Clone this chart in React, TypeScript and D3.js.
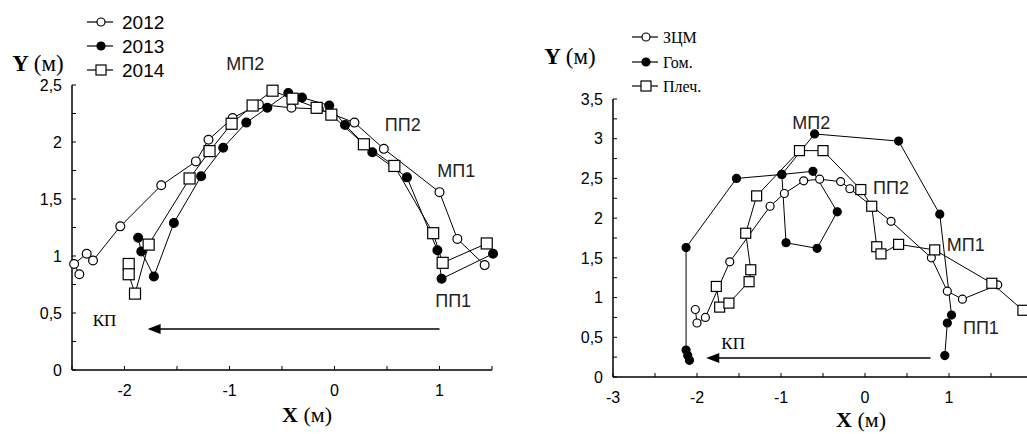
import React, { useEffect, useRef } from "react";
import * as d3 from "d3";

type Pt = [number, number];
type Note = [string, number, number];

// left panel: trajectories by year
const yearNames = ["2012", "2013", "2014"];
const traj2012: Pt[] = [
  [-2.43, 0.84], [-2.48, 0.93], [-2.36, 1.02], [-2.3, 0.96], [-2.04, 1.26],
  [-1.65, 1.62], [-1.32, 1.83], [-1.2, 2.02], [-0.97, 2.21], [-0.72, 2.33],
  [-0.41, 2.3], [-0.15, 2.29], [0.19, 2.17], [0.47, 1.94], [1.0, 1.56],
  [1.17, 1.15], [1.43, 0.92],
];
const traj2013: Pt[] = [
  [-1.87, 1.16], [-1.84, 1.04], [-1.72, 0.82], [-1.53, 1.29], [-1.27, 1.7],
  [-1.06, 1.95], [-0.84, 2.17], [-0.64, 2.3], [-0.44, 2.43], [-0.31, 2.39],
  [-0.05, 2.32], [0.1, 2.15], [0.36, 1.91], [0.69, 1.69], [0.98, 1.05],
  [1.02, 0.8], [1.51, 1.02],
];
const traj2014: Pt[] = [
  [-1.96, 0.93], [-1.96, 0.84], [-1.9, 0.67], [-1.77, 1.1], [-1.38, 1.68],
  [-1.19, 1.92], [-0.98, 2.16], [-0.78, 2.32], [-0.59, 2.45], [-0.4, 2.38],
  [-0.17, 2.3], [-0.03, 2.24], [0.28, 1.98], [0.57, 1.79], [0.94, 1.2],
  [1.03, 0.94], [1.45, 1.11],
];
const leftXTicks = [-2, -1, 0, 1];
const leftYTicks = [0, 0.5, 1, 1.5, 2, 2.5];
const leftNotes: Note[] = [
  ["МП2", -0.85, 2.69],
  ["ПП2", 0.65, 2.15],
  ["МП1", 1.16, 1.75],
  ["ПП1", 1.13, 0.61],
];
const leftArrow: Pt[] = [[1.0, 0.36], [-1.78, 0.36]];
const leftKP: Pt = [-2.19, 0.44];

// right panel: body segments
const partNames = ["ЗЦМ", "Гом.", "Плеч."];
const trajCom: Pt[] = [
  [-2.02, 0.85], [-2.0, 0.68], [-1.9, 0.75], [-1.61, 1.45], [-1.13, 2.15],
  [-0.96, 2.31], [-0.73, 2.47], [-0.54, 2.49], [-0.29, 2.46], [-0.18, 2.37],
  [0.31, 1.96], [0.79, 1.5], [0.98, 1.08], [1.16, 0.98], [1.58, 1.16],
];
const trajShin: Pt[] = [
  [0.95, 0.27], [0.98, 0.68], [1.03, 0.78], [0.89, 2.05], [0.4, 2.97],
  [-0.6, 3.06], [-0.99, 2.55], [-0.94, 1.69], [-0.57, 1.62], [-0.33, 2.08],
  [-0.62, 2.59], [-0.99, 2.55], [-1.53, 2.5], [-2.13, 1.63], [-2.13, 0.34],
  [-2.11, 0.27], [-2.09, 0.21],
];
const trajShoulder: Pt[] = [
  [-1.77, 1.14], [-1.73, 0.88], [-1.62, 0.93], [-1.38, 1.2], [-1.36, 1.35],
  [-1.42, 1.81], [-1.29, 2.28], [-0.78, 2.85], [-0.5, 2.85], [-0.05, 2.36],
  [0.08, 2.15], [0.14, 1.64], [0.19, 1.55], [0.4, 1.67], [0.83, 1.6],
  [1.51, 1.18], [1.88, 0.84],
];
const rightXTicks = [-3, -2, -1, 0, 1];
const rightYTicks = [0, 0.5, 1, 1.5, 2, 2.5, 3, 3.5];
const rightNotes: Note[] = [
  ["МП2", -0.64, 3.21],
  ["ПП2", 0.31, 2.38],
  ["МП1", 1.2, 1.67],
  ["ПП1", 1.38, 0.62],
];
const rightArrow: Pt[] = [[0.78, 0.24], [-1.89, 0.24]];
const rightKP: Pt = [-1.57, 0.43];

const markerKinds = ["circle", "dot", "square"];
const SANS = "'Liberation Sans', Arial, sans-serif";
const SERIF = "'Liberation Serif', 'Times New Roman', serif";

const fmt = (v: number) => String(v).replace(".", ",").replace("-", "\u2011");

function drawMarker(g: any, kind: string, x: number, y: number, size: number) {
  if (kind === "square") {
    g.append("rect")
      .attr("x", x - size / 2)
      .attr("y", y - size / 2)
      .attr("width", size)
      .attr("height", size)
      .attr("fill", "white")
      .attr("stroke", "black")
      .attr("stroke-width", 1.2);
  } else {
    g.append("circle")
      .attr("cx", x)
      .attr("cy", y)
      .attr("r", size / 2.5)
      .attr("fill", kind === "dot" ? "black" : "white")
      .attr("stroke", "black")
      .attr("stroke-width", 1.2);
  }
}

function drawPanel(svg: any, cfg: any) {
  const { xDomain, xRange, yDomain, yRange, xTicks, yTicks, series, notes, arrow, kp, sq } = cfg;
  const x = d3.scaleLinear().domain(xDomain).range(xRange);
  const y = d3.scaleLinear().domain(yDomain).range(yRange);
  const g = svg.append("g");

  // axes
  g.append("line")
    .attr("x1", x(xDomain[0])).attr("x2", x(xDomain[0]))
    .attr("y1", y(yDomain[0])).attr("y2", y(yDomain[1]))
    .attr("stroke", "black").attr("stroke-width", 1.5);
  g.append("line")
    .attr("x1", x(xDomain[0])).attr("x2", x(xDomain[1]))
    .attr("y1", y(yDomain[0])).attr("y2", y(yDomain[0]))
    .attr("stroke", "black").attr("stroke-width", 1.5);

  // y ticks (major + minor)
  const yMinor = d3.range(yDomain[0], yDomain[1] + 0.001, 0.25);
  yMinor.forEach((v: number) => {
    g.append("line")
      .attr("x1", x(xDomain[0])).attr("x2", x(xDomain[0]) + 4)
      .attr("y1", y(v)).attr("y2", y(v))
      .attr("stroke", "black").attr("stroke-width", 1);
  });
  yTicks.forEach((v: number) => {
    g.append("text")
      .attr("x", x(xDomain[0]) - 10)
      .attr("y", y(v))
      .attr("dy", "0.36em")
      .attr("text-anchor", "end")
      .style("font-family", SANS)
      .style("font-size", "16px")
      .text(fmt(v));
  });

  // x ticks
  const xMinor = d3.range(xDomain[0], xDomain[1] + 0.001, 0.5);
  xMinor.forEach((v: number) => {
    g.append("line")
      .attr("x1", x(v)).attr("x2", x(v))
      .attr("y1", y(yDomain[0])).attr("y2", y(yDomain[0]) - 4)
      .attr("stroke", "black").attr("stroke-width", 1);
  });
  xTicks.forEach((v: number) => {
    g.append("text")
      .attr("x", x(v))
      .attr("y", y(yDomain[0]) + 26)
      .attr("text-anchor", "middle")
      .style("font-family", SANS)
      .style("font-size", "16px")
      .text(fmt(v));
  });

  // series lines then markers
  const line = d3.line<Pt>().x((d) => x(d[0])).y((d) => y(d[1]));
  series.forEach((s: Pt[]) => {
    g.append("path")
      .attr("d", line(s))
      .attr("fill", "none")
      .attr("stroke", "black")
      .attr("stroke-width", 1);
  });
  series.forEach((s: Pt[], i: number) => {
    s.forEach((d) => drawMarker(g, markerKinds[i], x(d[0]), y(d[1]), sq));
  });

  // phase labels
  notes.forEach(([t, nx, ny]: Note) => {
    g.append("text")
      .attr("x", x(nx))
      .attr("y", y(ny))
      .attr("dy", "0.36em")
      .attr("text-anchor", "middle")
      .style("font-family", SANS)
      .style("font-size", "18px")
      .attr("fill", "#222")
      .text(t);
  });

  // direction arrow
  const [a0, a1] = arrow;
  g.append("line")
    .attr("x1", x(a0[0])).attr("x2", x(a1[0]) + 10)
    .attr("y1", y(a0[1])).attr("y2", y(a1[1]))
    .attr("stroke", "black").attr("stroke-width", 1.6);
  const hx = x(a1[0]);
  const hy = y(a1[1]);
  g.append("path")
    .attr("d", `M${hx},${hy}L${hx + 13},${hy - 5}L${hx + 13},${hy + 5}Z`)
    .attr("fill", "black");
  g.append("text")
    .attr("x", x(kp[0]))
    .attr("y", y(kp[1]))
    .attr("dy", "0.36em")
    .attr("text-anchor", "middle")
    .style("font-family", SERIF)
    .style("font-size", "17px")
    .text("КП");
}

function drawLegend(svg: any, names: string[], cfg: any) {
  const { x0, rows, textX, font, size } = cfg;
  names.forEach((n, i) => {
    const ry = rows[i];
    svg.append("line")
      .attr("x1", x0).attr("x2", x0 + 26)
      .attr("y1", ry).attr("y2", ry)
      .attr("stroke", "black").attr("stroke-width", 1.2);
    drawMarker(svg, markerKinds[i], x0 + 14, ry, 10);
    svg.append("text")
      .attr("x", textX)
      .attr("y", ry)
      .attr("dy", "0.36em")
      .style("font-family", font)
      .style("font-size", size)
      .text(n);
  });
}

export default function App() {
  const ref = useRef<SVGSVGElement>(null);

  useEffect(() => {
    const svg = d3.select(ref.current);
    svg.selectAll("*").remove();

    drawPanel(svg, {
      xDomain: [-2.5, 1.5], xRange: [72, 492],
      yDomain: [0, 2.5], yRange: [370, 85],
      xTicks: leftXTicks, yTicks: leftYTicks,
      series: [traj2012, traj2013, traj2014],
      notes: leftNotes, arrow: leftArrow, kp: leftKP, sq: 11,
    });
    drawPanel(svg, {
      xDomain: [-3, 2], xRange: [613, 1033],
      yDomain: [0, 3.5], yRange: [377, 99],
      xTicks: rightXTicks, yTicks: rightYTicks,
      series: [trajCom, trajShin, trajShoulder],
      notes: rightNotes, arrow: rightArrow, kp: rightKP, sq: 10,
    });

    drawLegend(svg, yearNames, { x0: 87, rows: [22, 46, 70], textX: 122, font: SANS, size: "19px" });
    drawLegend(svg, partNames, { x0: 632, rows: [37, 62, 86], textX: 663, font: SERIF, size: "16px" });

    // axis titles
    const titles: [number, number][] = [[38, 71], [570, 64]];
    titles.forEach(([tx, ty]) => {
      const t = svg.append("text")
        .attr("x", tx).attr("y", ty)
        .attr("text-anchor", "middle")
        .style("font-family", SERIF)
        .style("font-size", "23px")
        .style("font-weight", "bold");
      t.append("tspan").text("Y ");
      t.append("tspan").style("font-weight", "normal").text("(м)");
    });
    const xTitles: [number, number][] = [[307, 422], [861, 427]];
    xTitles.forEach(([tx, ty]) => {
      const t = svg.append("text")
        .attr("x", tx).attr("y", ty)
        .attr("text-anchor", "middle")
        .style("font-family", SERIF)
        .style("font-size", "22px")
        .style("font-weight", "bold");
      t.append("tspan").text("X ");
      t.append("tspan").style("font-weight", "normal").text("(м)");
    });
  }, []);

  return (
    <svg
      ref={ref}
      width={1027}
      height={434}
      style={{ position: "absolute", left: 0, top: 0, background: "white", overflow: "hidden" }}
    />
  );
}
